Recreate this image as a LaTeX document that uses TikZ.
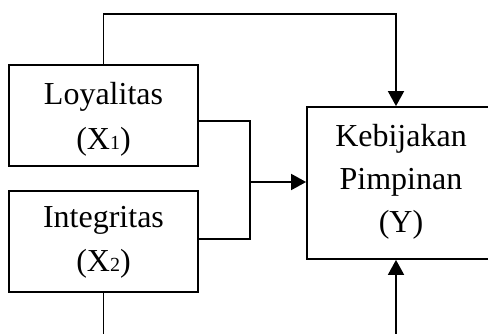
\documentclass[tikz,border=0pt]{standalone}
\usepackage{fontspec}
\setmainfont{Liberation Serif}
\usetikzlibrary{arrows.meta}
\tikzset{
  varbox/.style={draw, line width=1.8pt, minimum width=189pt, minimum height=101pt, inner sep=0pt},
  ybox/.style={draw, line width=1.8pt, minimum width=188pt, minimum height=152pt, inner sep=0pt},
  lbl/.style={anchor=base, inner sep=0pt, font=\fontsize{32}{38}\selectfont},
  wire/.style={line width=1.8pt},
  arrow/.style={wire, -{Triangle[width=16pt,length=15pt]}}
}
\newcommand{\subdigit}[1]{{\fontsize{20}{20}\selectfont #1}}
\begin{document}
\begin{tikzpicture}[x=1pt,y=-1pt]
  \useasboundingbox (0,0) rectangle (488,334);
  \clip (0,0) rectangle (488,334);

  % boxes
  \node[varbox] (L) at (103.5,115.5) {};
  \node[varbox] (I) at (103.5,241.5) {};
  \node[ybox]   (K) at (401,183) {};

  % labels
  \node[lbl] (L1) at (103.5,105) {Loyalitas};
  \node[lbl] (L2) at (103.5,150) {(X\subdigit{1})};
  \node[lbl] (I1) at (103.5,228) {Integritas};
  \node[lbl] (I2) at (103.5,272) {(X\subdigit{2})};
  \node[lbl] (K1) at (401,147) {Kebijakan};
  \node[lbl] (K2) at (401,190) {Pimpinan};
  \node[lbl] (K3) at (401,233) {(Y)};

  % helper points
  \coordinate (join) at (250,182);
  \coordinate (ktop) at ([xshift=-5pt]K.north);
  \coordinate (kbot) at ([xshift=-5pt]K.south);

  % Loyalitas over the top into Y
  \draw[arrow] (L.north) -- (L.north |- 0,14) -| (ktop);

  % X1 and X2 joined, then into Y
  \draw[wire] ([yshift=-5.5pt]L.east) -| (join) |- ([yshift=2.5pt]I.east);
  \draw[arrow] (join) -- (join -| K.west);

  % lines running below the frame
  \draw[wire] (I.south) -- (I.south |- 0,340);
  \draw[arrow] (kbot |- 0,340) -- (kbot);
\end{tikzpicture}
\end{document}
